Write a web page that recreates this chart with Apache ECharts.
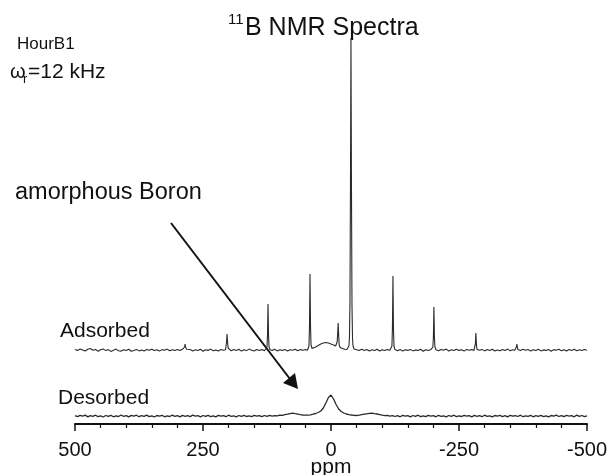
<!DOCTYPE html>
<html>
<head>
<meta charset="utf-8">
<script src="https://cdn.jsdelivr.net/npm/echarts@6/dist/echarts.min.js"></script>
<style>html,body{margin:0;padding:0;background:#fff}#c{width:610px;height:475px}</style>
</head>
<body>
<div id="c"></div>
<script>
// x tick labels (ppm, axis reversed)
const xTicks = [500, 250, 0, -250, -500];
const seriesNames = ['Adsorbed', 'Desorbed'];
// Adsorbed spectrum: [ppm, intensity]
const adsorbed = [
[500,0.5],[495,-0.5],[490,1.0],[485,0.0],[480,-1.0],[475,0.8],[470,1.5],[465,-0.3],[460,0.6],[455,-1.2],[450,0.2],[445,1.1],[440,-0.6],[435,0.4],[430,-1.4],[425,-0.2],[420,0.9],[415,-0.7],[410,-1.1],[405,0.3],[400,-0.5],[395,0.7],[390,-1.3],[385,-0.4],[380,0.6],[375,-0.9],[370,0.1],[365,-1.0],[360,0.5],[355,-0.3],[350,0.8],[345,-0.6],[340,0.2],[335,-1.1],[330,0.4],[325,-0.2],[320,0.9],[315,-0.8],[310,0.3],[305,-0.5],[300,0.6],[295,-0.4],[290,0.7],
[288,0.5],[286,3],[285,6],[284,3],[282,0.8],
[280,-0.3],[275,0.5],[270,-0.9],[265,0.2],[260,-0.6],[255,0.8],[250,-1.2],[245,0.3],[240,-0.4],[235,0.9],[230,-0.7],[225,0.1],[220,-1.0],[215,0.6],[210,-0.2],
[206,0.3],[205,2],[204,8],[203,16],[202,8],[201,2],[200,0.2],
[195,-0.8],[190,0.4],[185,-0.5],[180,0.7],[175,-1.1],[170,0.2],[165,-0.6],[160,0.9],[155,-0.3],[150,-1.0],[145,0.5],[140,-0.4],[135,0.6],[130,-0.7],
[127,0.2],[125,3],[124,15],[123,46],[122,15],[121,3],[119,0.3],
[115,-0.5],[110,0.8],[105,-0.9],[100,0.3],[95,-0.4],[90,0.6],[85,-1.0],[80,0.2],[75,-0.3],[70,0.7],[65,-0.8],[60,0.4],[55,-0.2],[50,0.5],[46,-0.3],
[45,0.5],[43,4],[42,24],[41,76],[40,24],[39,5],[37,1.5],
[35,2],[30,3],[25,4.5],[20,6],[15,7],[10,7.5],[5,7],[0,6],[-5,5],[-9,4],[-11,4.5],[-12,8],[-13,16],[-14,27],[-15,14],[-16,5],[-18,2.5],[-22,1.5],[-27,0.8],[-31,0.5],
[-33,1],[-35,4],[-36,12],[-37,45],[-38,160],[-39,312],[-40,160],[-41,45],[-42,12],[-43,4],[-45,1],
[-50,0.3],[-55,-0.6],[-60,0.8],[-65,-0.4],[-70,0.5],[-75,-0.9],[-80,0.2],[-85,-0.5],[-90,0.7],[-95,-1.0],[-100,0.3],[-105,-0.6],[-110,0.4],[-115,-0.2],
[-117,0.5],[-119,4],[-120,22],[-121,74],[-122,22],[-123,4],[-125,0.4],
[-130,-0.7],[-135,0.5],[-140,-1.1],[-145,0.2],[-150,-0.4],[-155,0.6],[-160,-0.9],[-165,0.1],[-170,-0.5],[-175,0.8],[-180,-1.2],[-185,0.3],[-190,-0.6],[-195,0.4],
[-197,0.3],[-199,3],[-200,13],[-201,43],[-202,13],[-203,3],[-205,0.2],
[-210,-0.8],[-215,0.5],[-220,-0.3],[-225,0.9],[-230,-1.0],[-235,0.2],[-240,-0.6],[-245,0.7],[-250,-0.4],[-255,0.3],[-260,-1.1],[-265,0.6],[-270,-0.2],[-275,0.4],[-279,-0.5],
[-281,0.5],[-282,6],[-283,17],[-284,6],[-285,0.8],
[-290,-0.3],[-295,0.6],[-300,-0.9],[-305,0.4],[-310,-0.5],[-315,0.8],[-320,-1.0],[-325,0.1],[-330,-0.7],[-335,0.5],[-340,-0.4],[-345,0.9],[-350,-0.8],[-355,0.2],[-359,-0.3],
[-361,0.5],[-362,3],[-363,6],[-364,3],[-365,0.4],
[-370,-0.6],[-375,0.7],[-380,-0.2],[-385,0.5],[-390,-1.1],[-395,0.3],[-400,-0.5],[-405,0.8],[-410,-0.9],[-415,0.1],[-420,-0.4],[-425,0.6],[-430,-1.2],[-435,0.4],[-440,-0.3],[-445,0.8],[-450,-0.7],[-455,0.2],[-460,-1.0],[-465,0.5],[-470,-0.4],[-475,0.7],[-480,-0.8],[-485,0.3],[-490,-0.5],[-495,0.6],[-500,-0.2]
];
// Desorbed spectrum: [ppm, intensity]
const desorbed = [
[500,0.3],[495,-0.7],[490,0.6],[485,-0.2],[480,0.9],[475,-0.9],[470,0.4],[465,-0.3],[460,0.8],[455,-0.6],[450,0.1],[445,-1.0],[440,0.5],[435,-0.4],[430,0.7],[425,-0.8],[420,0.2],[415,-0.5],[410,1.0],[405,-0.3],[400,0.4],[395,-0.9],[390,0.6],[385,-0.1],[380,0.8],[375,-0.7],[370,0.3],[365,-0.4],[360,0.9],[355,-0.6],[350,0.2],[345,-1.0],[340,0.5],[335,-0.2],[330,0.7],[325,-0.8],[320,0.1],[315,-0.5],[310,0.8],[305,-0.4],[300,0.3],[295,-0.9],[290,0.6],[285,-0.3],[280,0.4],[275,-0.6],[270,0.9],[265,-0.2],[260,0.3],[255,-0.8],[250,0.5],[245,-0.4],[240,0.7],[235,-0.6],[230,0.2],[225,-0.9],[220,0.6],[215,-0.1],[210,0.4],[205,-0.7],[200,0.8],[195,-0.3],[190,0.2],[185,-0.8],[180,0.5],[175,-0.4],[170,0.7],[165,-0.5],[160,0.1],[155,-0.6],[150,0.6],[145,-0.2],[140,0.3],[135,-0.7],[130,0.5],[125,-0.3],[120,0.6],[115,-0.1],[110,0.4],[105,0.2],
[100,0.9],[95,0.6],[90,1.3],[85,1.8],[80,2.4],[75,2.8],[70,2.3],[65,1.9],[60,1.4],[55,1.0],[50,0.9],
[45,0.8],[40,1.2],[35,1.8],[30,2.5],[25,3.5],[20,5],[15,8],[10,13],[5,18.5],[2,20.5],[0,21],[-2,20],[-5,17],[-10,11.5],[-15,7],[-20,4.5],[-25,3],[-30,2],[-35,1.4],[-40,1.0],
[-45,0.7],[-50,0.5],[-55,0.8],[-60,1.3],[-65,1.8],[-70,2.2],[-75,2.6],[-80,2.9],[-85,2.4],[-90,2.0],[-95,1.3],[-100,0.8],[-105,0.4],[-110,0.6],[-115,-0.2],[-120,0.3],
[-125,-0.5],[-130,0.4],[-135,-0.8],[-140,0.6],[-145,-0.2],[-150,0.3],[-155,-0.9],[-160,0.5],[-165,-0.4],[-170,0.8],[-175,-0.6],[-180,0.2],[-185,-0.7],[-190,0.6],[-195,-0.1],[-200,0.4],[-205,-0.8],[-210,0.7],[-215,-0.3],[-220,0.2],[-225,-0.9],[-230,0.5],[-235,-0.4],[-240,0.8],[-245,-0.6],[-250,0.1],[-255,-0.5],[-260,0.7],[-265,-0.2],[-270,0.4],[-275,-0.9],[-280,0.6],[-285,-0.3],[-290,0.3],[-295,-0.7],[-300,0.8],[-305,-0.4],[-310,0.2],[-315,-0.8],[-320,0.5],[-325,-0.1],[-330,0.6],[-335,-0.6],[-340,0.3],[-345,-0.9],[-350,0.7],[-355,-0.2],[-360,0.4],[-365,-0.5],[-370,0.8],[-375,-0.7],[-380,0.1],[-385,-0.4],[-390,0.6],[-395,-0.8],[-400,0.3],[-405,-0.3],[-410,0.7],[-415,-0.6],[-420,0.2],[-425,-0.9],[-430,0.5],[-435,-0.2],[-440,0.8],[-445,-0.5],[-450,0.4],[-455,-0.7],[-460,0.6],[-465,-0.1],[-470,0.3],[-475,-0.8],[-480,0.9],[-485,-0.4],[-490,0.5],[-495,-0.6],[-500,0.2]
];
// vertical stacking offsets of the two traces
const adsOffset = 74;
const desOffset = 8;

const FONT = '"Liberation Sans", Arial, sans-serif';
const chart = echarts.init(document.getElementById('c'), null, {renderer: 'canvas'});

function txt(x, y, text, size, extra) {
  return Object.assign({
    type: 'text', x: x, y: y,
    style: { text: text, fill: '#111', font: size + 'px ' + FONT,
      textAlign: 'left', textVerticalAlign: 'middle', align: 'left', verticalAlign: 'middle' }
  }, extra || {});
}

chart.setOption({
  animation: false,
  backgroundColor: '#fff',
  grid: { left: 75, right: 23, top: 38, bottom: 51, containLabel: false, outerBoundsMode: 'none' },
  xAxis: {
    type: 'value', min: -500, max: 500, interval: 250, inverse: true,
    name: 'ppm', nameLocation: 'middle', nameGap: 33, nameMoveOverlap: false,
    nameTextStyle: { fontSize: 21, color: '#111', fontFamily: FONT },
    axisLine: { lineStyle: { color: '#111', width: 2 } },
    axisTick: { show: true, length: 7, lineStyle: { color: '#111', width: 1.5 } },
    minorTick: { show: true, splitNumber: 5, length: 4, lineStyle: { color: '#111', width: 1.2 } },
    splitLine: { show: false },
    axisLabel: { fontSize: 20, color: '#111', margin: 16, fontFamily: FONT,
      formatter: v => xTicks.indexOf(v) >= 0 ? String(v) : '' }
  },
  yAxis: { type: 'value', min: 0, max: 386, show: false },
  series: [
    { name: seriesNames[0], type: 'line', showSymbol: false, silent: true,
      lineStyle: { color: '#2a2a2a', width: 1.1 },
      data: adsorbed.map(p => [p[0], p[1] + adsOffset]) },
    { name: seriesNames[1], type: 'line', showSymbol: false, silent: true,
      lineStyle: { color: '#2a2a2a', width: 1.3 },
      data: desorbed.map(p => [p[0], p[1] + desOffset]) }
  ],
  graphic: [
    txt(228, 20, '11', 15),
    txt(245, 28, 'B NMR Spectra', 25),
    txt(17, 44, 'HourB1', 17),
    txt(10, 72, 'ω', 20),
    txt(23, 79, 'r', 13),
    txt(28, 72, '=12 kHz', 21),
    txt(15, 193, 'amorphous Boron', 23.5),
    txt(60, 331, seriesNames[0], 21),
    txt(58, 398, seriesNames[1], 21),
    { type: 'line', shape: { x1: 171, y1: 223, x2: 290, y2: 379 },
      style: { stroke: '#111', lineWidth: 2 } },
    { type: 'polygon', shape: { points: [[298, 389], [283, 383], [295, 373]] },
      style: { fill: '#111' } }
  ]
});
</script>
</body>
</html>
